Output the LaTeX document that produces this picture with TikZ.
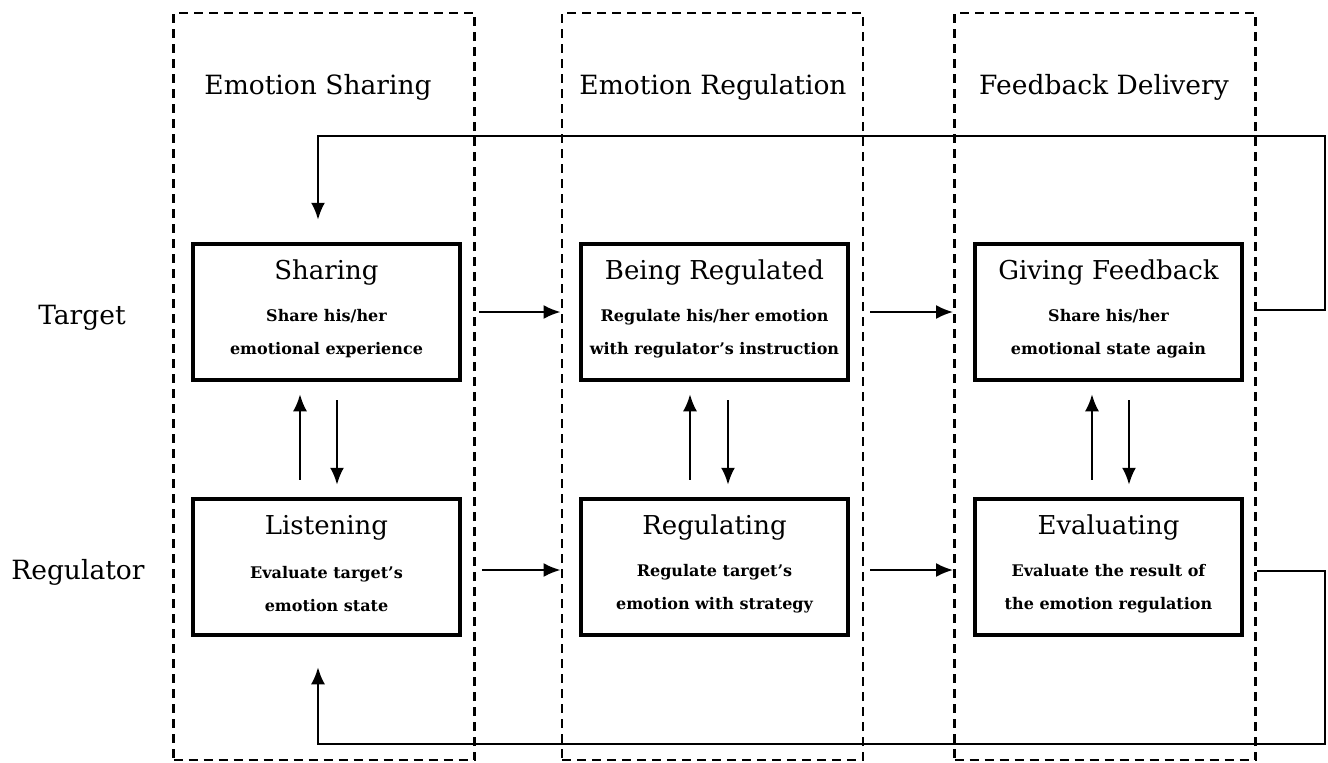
\documentclass[tikz,border=0pt]{standalone}
\usepackage{fontspec}
\setmainfont{DejaVu Serif}
\usetikzlibrary{arrows.meta,calc}
\tikzset{
  colbox/.style={draw, line width=2.8pt, dash pattern=on 9pt off 6pt, minimum width=301pt, minimum height=747pt, inner sep=0pt},
  stagebox/.style={draw, line width=4.5pt, minimum width=267pt, minimum height=136pt, inner sep=0pt},
  head/.style={font=\fontsize{26.5}{30}\selectfont},
  rowlab/.style={font=\fontsize{26.5}{30}\selectfont},
  ttl/.style={font=\fontsize{26}{30}\selectfont, inner sep=0pt},
  sub/.style={font=\bfseries\fontsize{16}{33}\selectfont, align=center, inner sep=0pt},
  arr/.style={line width=2.3pt, -{Latex[length=17pt,width=14pt]}},
}
\begin{document}
\begin{tikzpicture}[x=1pt,y=-1pt]
\useasboundingbox (0,0) rectangle (1328,763);
% columns
\node[colbox] (col1) at (324,386.5) {};
\node[colbox] (col2) at (712.5,386.5) {};
\node[colbox] (col3) at (1105,386.5) {};
% headers
\node[head] (h1) at (318,87) {Emotion Sharing};
\node[head] (h2) at (713,87) {Emotion Regulation};
\node[head] (h3) at (1104,87) {Feedback Delivery};
% row labels
\node[rowlab] (tlab) at (82,318) {Target};
\node[rowlab] (rlab) at (78,572) {Regulator};
% stage boxes
\node[stagebox] (sharing) at (326.5,312) {};
\node[stagebox] (listen) at (326.5,567) {};
\node[stagebox] (beingreg) at (714.5,312) {};
\node[stagebox] (regulating) at (714.5,567) {};
\node[stagebox] (giving) at (1108.5,312) {};
\node[stagebox] (evaluating) at (1108.5,567) {};
% stage texts
\node[ttl] (sharingT) at ([yshift=-31pt]sharing.north) {Sharing};
\node[sub] (sharingS) at ([yshift=-22pt]sharing.center) {Share his/her\\emotional experience};
\node[ttl] (listenT) at ([yshift=-31pt]listen.north) {Listening};
\node[sub] (listenS) at ([yshift=-22pt]listen.center) {Evaluate target’s\\emotion state};
\node[ttl] (beingregT) at ([yshift=-31pt]beingreg.north) {Being Regulated};
\node[sub] (beingregS) at ([yshift=-22pt]beingreg.center) {Regulate his/her emotion\\with regulator’s instruction};
\node[ttl] (regulatingT) at ([yshift=-31pt]regulating.north) {Regulating};
\node[sub] (regulatingS) at ([yshift=-22pt]regulating.center) {Regulate target’s\\emotion with strategy};
\node[ttl] (givingT) at ([yshift=-31pt]giving.north) {Giving Feedback};
\node[sub] (givingS) at ([yshift=-22pt]giving.center) {Share his/her\\emotional state again};
\node[ttl] (evaluatingT) at ([yshift=-31pt]evaluating.north) {Evaluating};
\node[sub] (evaluatingS) at ([yshift=-22pt]evaluating.center) {Evaluate the result of\\the emotion regulation};
% vertical arrows
\draw[arr] ([xshift=-26.5pt,yshift=17pt]listen.north) -- ([xshift=-26.5pt,yshift=-12pt]sharing.south);
\draw[arr] ([xshift=10.5pt,yshift=-18pt]sharing.south) -- ([xshift=10.5pt,yshift=12pt]listen.north);
\draw[arr] ([xshift=-24.5pt,yshift=17pt]regulating.north) -- ([xshift=-24.5pt,yshift=-12pt]beingreg.south);
\draw[arr] ([xshift=13.5pt,yshift=-18pt]beingreg.south) -- ([xshift=13.5pt,yshift=12pt]regulating.north);
\draw[arr] ([xshift=-16.5pt,yshift=17pt]evaluating.north) -- ([xshift=-16.5pt,yshift=-12pt]giving.south);
\draw[arr] ([xshift=20.5pt,yshift=-18pt]giving.south) -- ([xshift=20.5pt,yshift=12pt]evaluating.north);
% horizontal arrows
\draw[arr] ([xshift=3pt]sharing -| col1.east) -- (sharing -| col2.west);
\draw[arr] ([xshift=6pt,yshift=-3pt]listen -| col1.east) -- ([yshift=-3pt]listen -| col2.west);
\draw[arr] ([xshift=6pt]beingreg -| col2.east) -- (beingreg -| col3.west);
\draw[arr] ([xshift=6pt,yshift=-3pt]regulating -| col2.east) -- ([yshift=-3pt]regulating -| col3.west);
% feedback loops
\coordinate (loopTR) at (1325,136);
\coordinate (loopBR) at (1325,744);
\draw[arr] ([yshift=2pt]giving -| col3.east) -| (loopTR) -| ([xshift=-8.5pt,yshift=22pt]sharing.north);
\draw[arr] ([yshift=-4pt]evaluating -| col3.east) -| (loopBR) -| ([xshift=-8.5pt,yshift=-30pt]listen.south);
\end{tikzpicture}
\end{document}
